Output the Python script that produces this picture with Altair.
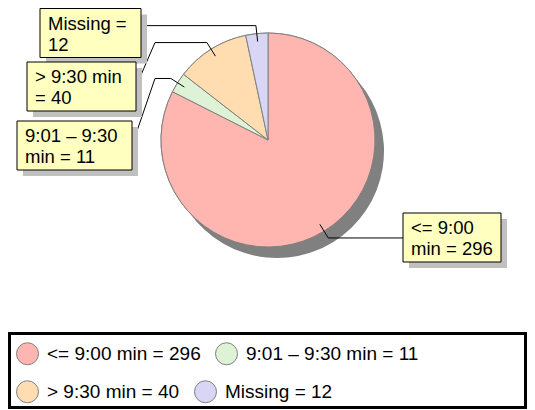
import altair as alt
import pandas as pd
import numpy as np

# ---------------- data ----------------
categories = ["<= 9:00 min", "9:01 – 9:30 min", "> 9:30 min", "Missing"]
counts = [296, 11, 40, 12]
callout_text = ["<= 9:00\nmin = 296", "9:01 – 9:30\nmin = 11", "> 9:30 min\n= 40", "Missing =\n12"]

# ---------------- style / layout ----------------
colors = ["#FFB6B0", "#DEF3D6", "#FFDDB0", "#D8D5F5"]
FONT = "Liberation Sans"
W, H = 519, 401
cx, cy, R = 260, 132, 107
sdx, sdy = 9, 11
boxes = [(395, 205, 493, 254), (9, 113, 124, 162), (19, 54, 128, 103), (32, 0.5, 133, 49.5)]
side = ["right", "left", "left", "left"]
anchor = ["elbow", "mid", "mid", "elbow"]
knee_x = 147
r_in, r_out = 99, 115
shadow_off = 6

labels = [f"{c} = {v}" for c, v in zip(categories, counts)]
df = pd.DataFrame({"label": labels, "label2": labels, "value": counts,
                   "idx": list(range(len(counts)))})

total = sum(counts)
cum = np.cumsum([0] + counts[:-1])
mid = (cum + np.array(counts) / 2) / total * 2 * np.pi

line_rows = []
box_rows = []
for i, a in enumerate(mid):
    p0 = (cx + r_in * np.sin(a), cy - r_in * np.cos(a))
    p1 = (cx + r_out * np.sin(a), cy - r_out * np.cos(a))
    x0, y0, x1, y1 = boxes[i]
    end_y = p1[1] if anchor[i] == "elbow" else (y0 + y1) / 2
    if side[i] == "right":
        pts = [p0, p1, (x0, end_y)]
    else:
        pts = [p0, p1, (knee_x, p1[1]), (x1, end_y)]
    for k, (px, py) in enumerate(pts):
        line_rows.append({"s": i, "k": k, "x": px, "y": py})
    box_rows.append({"s": i, "x0": x0, "y0": y0, "x1": x1, "y1": y1,
                     "sx0": x0 + shadow_off, "sy0": y0 + shadow_off,
                     "sx1": x1 + shadow_off, "sy1": y1 + shadow_off,
                     "tx": x0 + 8, "ty": y0 + 21, "text": callout_text[i]})
lines_df = pd.DataFrame(line_rows)
boxes_df = pd.DataFrame(box_rows)

xs = alt.Scale(domain=[0, W], range=[0, W], nice=False, zero=False)
ys = alt.Scale(domain=[0, H], range=[0, H], nice=False, zero=False)


def legend_for(vals, ly):
    return alt.Legend(title=None, orient="none", legendX=8, legendY=ly, values=vals,
                      direction="horizontal", symbolType="circle", symbolSize=484,
                      symbolStrokeColor="#808080", symbolStrokeWidth=1,
                      labelFont=FONT, labelFontSize=19, labelColor="black",
                      labelLimit=0, columnPadding=12, labelOffset=8, padding=0)


shadow = alt.Chart(df).mark_arc(outerRadius=R, color="#808080").encode(
    theta=alt.Theta("value:Q", stack=True),
    order=alt.Order("idx:Q"),
    x=alt.value(cx + sdx), y=alt.value(cy + sdy),
)

pie = alt.Chart(df).mark_arc(outerRadius=R, stroke="#808080", strokeWidth=1).encode(
    theta=alt.Theta("value:Q", stack=True),
    order=alt.Order("idx:Q"),
    x=alt.value(cx), y=alt.value(cy),
    color=alt.Color("label:N", scale=alt.Scale(domain=labels, range=colors),
                    legend=legend_for(labels[:2], 334)),
)

# second (hidden underneath) copy of the pie only to carry the second legend row
dom2 = labels[2:] + labels[:2]
rng2 = colors[2:] + colors[:2]
pie2 = alt.Chart(df).mark_arc(outerRadius=R, stroke="#808080", strokeWidth=1).encode(
    theta=alt.Theta("value:Q", stack=True),
    order=alt.Order("idx:Q"),
    x=alt.value(cx), y=alt.value(cy),
    fill=alt.Fill("label2:N", scale=alt.Scale(domain=dom2, range=rng2),
                  legend=legend_for(labels[2:], 372)),
)

lines = alt.Chart(lines_df).mark_line(color="black", strokeWidth=1).encode(
    x=alt.X("x:Q", scale=xs, axis=None),
    y=alt.Y("y:Q", scale=ys, axis=None),
    detail="s:N",
    order="k:Q",
)

box_shadow = alt.Chart(boxes_df).mark_rect(color="#C0C0C0").encode(
    x=alt.X("sx0:Q", scale=xs, axis=None), x2="sx1:Q",
    y=alt.Y("sy0:Q", scale=ys, axis=None), y2="sy1:Q",
)

box = alt.Chart(boxes_df).mark_rect(fill="#FFFFC0", stroke="black", strokeWidth=1).encode(
    x=alt.X("x0:Q", scale=xs, axis=None), x2="x1:Q",
    y=alt.Y("y0:Q", scale=ys, axis=None), y2="y1:Q",
)

txt = alt.Chart(boxes_df).mark_text(align="left", baseline="alphabetic", lineBreak="\n",
                                    lineHeight=21, fontSize=18.5, font=FONT, color="black").encode(
    x=alt.X("tx:Q", scale=xs, axis=None),
    y=alt.Y("ty:Q", scale=ys, axis=None),
    text="text:N",
)

legend_box = alt.Chart(df).mark_rect(filled=False, stroke="black", strokeWidth=2.5).encode(
    x=alt.value(1.5), x2=alt.value(W - 1.5), y=alt.value(325.5), y2=alt.value(399.5),
)

chart = alt.layer(shadow, pie2, pie, lines, box_shadow, box, txt, legend_box).properties(
    width=W, height=H, padding=0, autosize=alt.AutoSizeParams(type="none"),
    background="white",
).configure_view(stroke=None)

chart.save("out.html", embed_options={"renderer": "svg", "actions": False})
